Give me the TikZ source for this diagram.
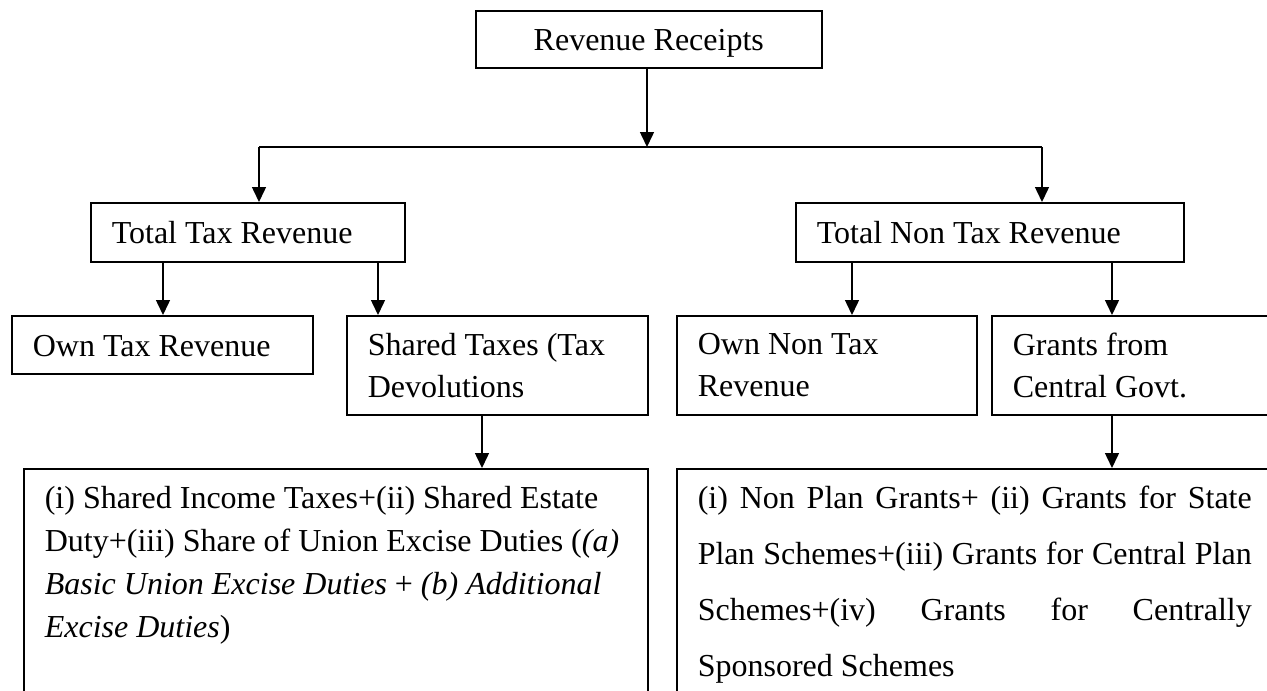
\documentclass[tikz,border=0pt]{standalone}
\usepackage{fontspec}
\setmainfont{Liberation Serif}
\usetikzlibrary{arrows.meta}
\newcommand{\jline}[1]{\makebox[554pt][s]{#1}}

\begin{document}
\begin{tikzpicture}[x=1pt,y=-1pt,
  box/.style={draw,line width=1.6pt,anchor=north west,inner xsep=21pt,inner ysep=0pt,
    align=flush left,font=\fontsize{32}{42}\selectfont},
  onebox/.style={box,text height=23pt,text depth=0pt},
  bigbox/.style={box,inner ysep=10pt,text height=30pt,text depth=300pt},
  arr/.style={-{Triangle[length=15pt,width=14pt]},line width=1.5pt}]
\useasboundingbox (0,0) rectangle (1267,691);
\clip (0,0) rectangle (1267,691);
% Top box
\node[onebox,align=flush center,text width=304pt,minimum height=57pt] (rr) at (475,10) {Revenue Receipts};
% Tax / non tax
\node[onebox,text width=272pt,minimum height=59pt] (ttr) at (90,202) {Total Tax Revenue};
\node[onebox,text width=346pt,minimum height=59pt] (tntr) at (795,202) {Total Non Tax Revenue};
% Third row
\node[onebox,text width=259pt,minimum height=58pt] (otr) at (11,315) {Own Tax Revenue};
\node[box,text width=259pt,minimum height=99pt] (st) at (346,315) {Shared Taxes (Tax\\Devolutions};
\node[box,text width=258pt,minimum height=99pt] (ontr) at (676,315) {Own Non Tax\\Revenue};
\node[box,text width=300pt,minimum height=99pt] (gcg) at (991,315) {Grants from\\Central Govt.};
% Bottom row
\node[bigbox,text width=582pt,font=\fontsize{32}{43}\selectfont] (bl) at (23,468)
  {(i) Shared Income Taxes+(ii) Shared Estate\\
   Duty+(iii) Share of Union Excise Duties (\textit{(a)}\\
   \textit{Basic Union Excise Duties} + \textit{(b) Additional}\\
   \textit{Excise Duties})};
\node[bigbox,text width=600pt,font=\fontsize{32}{56}\selectfont] (br) at (676,468)
  {\jline{(i) Non Plan Grants+ (ii) Grants for State}\\
   \jline{Plan Schemes+(iii) Grants for Central Plan}\\
   \jline{Schemes+(iv) Grants for Centrally}\\
   Sponsored Schemes};
% Arrow columns
\coordinate (split) at (647,147);
\coordinate (jl) at (259,147);
\coordinate (jr) at (1042,147);
\coordinate (c1) at (163,0);
\coordinate (c2) at (378,0);
\coordinate (c3) at (852,0);
\coordinate (c4) at (1112,0);
\coordinate (c5) at (482,0);
% Arrows
\draw[arr] (rr.south -| split) -- (split);
\draw[line width=1.6pt] (jl) -- (jr);
\draw[arr] (jl) -- (ttr.north -| jl);
\draw[arr] (jr) -- (tntr.north -| jr);
\draw[arr] (ttr.south -| c1) -- (otr.north -| c1);
\draw[arr] (ttr.south -| c2) -- (st.north -| c2);
\draw[arr] (tntr.south -| c3) -- (ontr.north -| c3);
\draw[arr] (tntr.south -| c4) -- (gcg.north -| c4);
\draw[arr] (st.south -| c5) -- (bl.north -| c5);
\draw[arr] (gcg.south -| c4) -- (br.north -| c4);
\end{tikzpicture}
\end{document}
